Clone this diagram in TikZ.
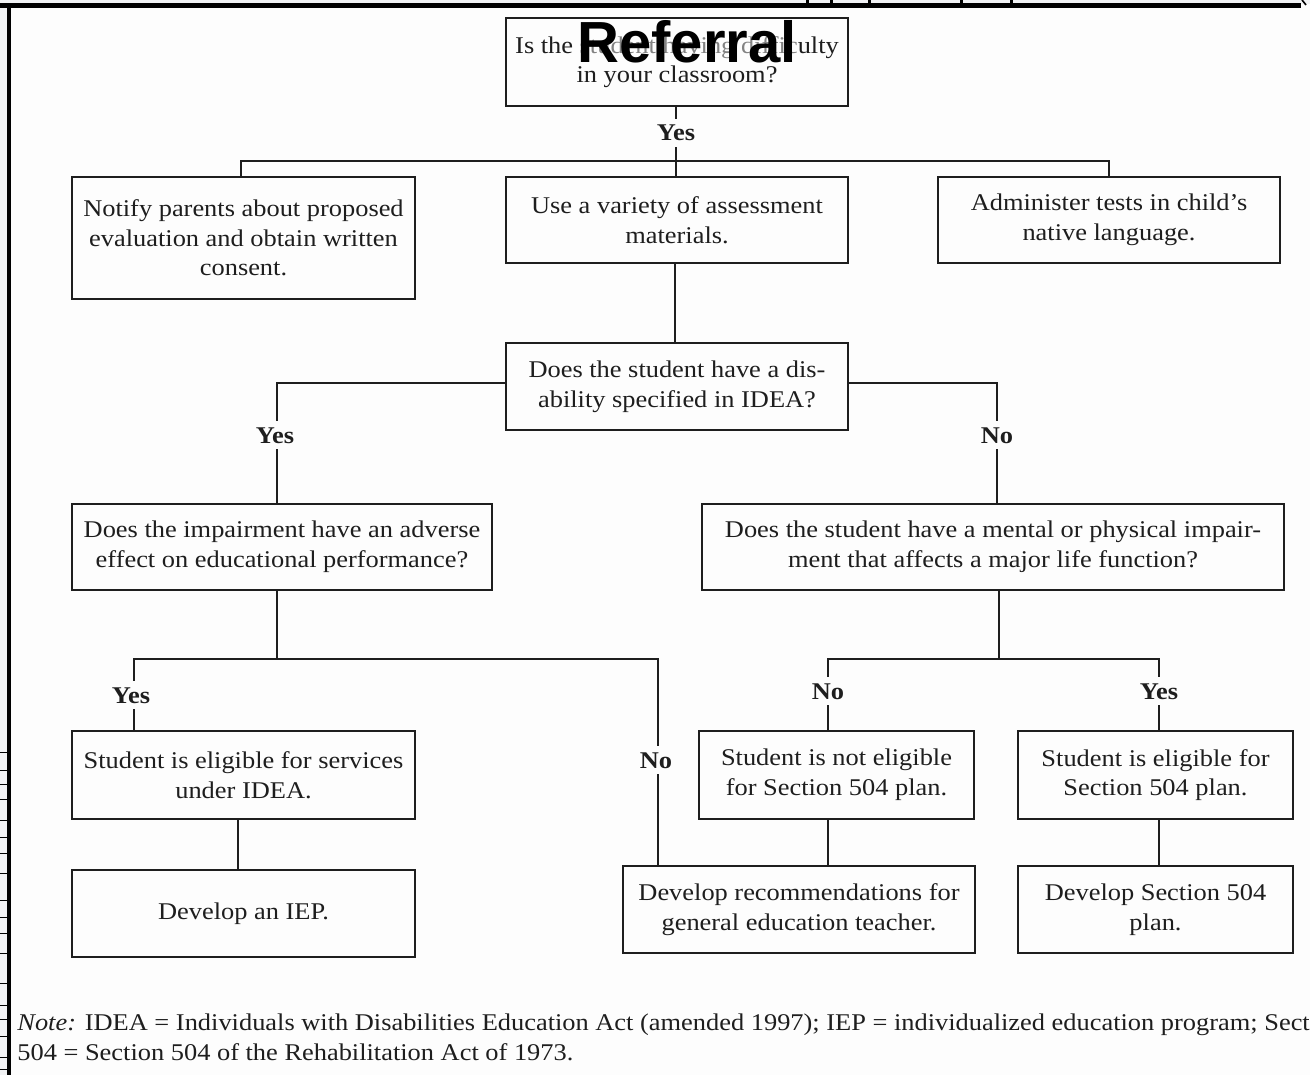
\documentclass[tikz,border=0pt]{standalone}
\usepackage{fontspec}
\setmainfont{Liberation Serif}[FakeStretch=1.1]
\newfontfamily\reffont{Liberation Sans}
\definecolor{ink}{HTML}{1E1E1E}
\definecolor{paper}{HTML}{FDFDFD}
\definecolor{strip}{HTML}{F1F2F4}
\tikzset{
  box/.style={draw=ink, line width=1.15pt, inner sep=0pt, align=center, text=ink,
    font=\fontsize{12}{14.8}\selectfont},
  conn/.style={draw=ink, line width=0.95pt},
  lab/.style={inner sep=0pt, text height=8pt, text depth=0pt, minimum height=14pt,
    text=ink, font=\fontsize{12}{14.8}\selectfont\bfseries},
  notetext/.style={inner sep=0pt, anchor=base west, text=ink, font=\fontsize{12}{14.8}\selectfont}
}
\begin{document}
\begin{tikzpicture}[x=0.5pt,y=-0.5pt]
\useasboundingbox (0,0) rectangle (1310,1075);
\clip (0,0) rectangle (1310,1075);
\fill[paper] (0,0) rectangle (1310,1075);
\fill[strip] (0,0) rectangle (1310,4);
\fill[strip] (0,0) rectangle (8,1075);
% frame remnants
\draw[line width=2.5pt] (0,5.5) -- (1301,5.5);
\draw[line width=2pt] (9,4) -- (9,1075);
\draw[line width=0.8pt] (1302,0) -- (1306,5);
\foreach \mx in {806,830,868,960,1010}{\fill (\mx,0) rectangle ++(3,3);}
\foreach \ty in {752,770,784,799,820,837,853,873,900,917,933,953,983,1005,1019,1036,1057,1069}{
  \draw[line width=0.5pt] (0,\ty) -- (8,\ty);}

% boxes
\node[box, minimum width=171pt, minimum height=44pt] (top) at (677,62) {Is the student having difficulty\\in your classroom?};
\node[box, minimum width=171.5pt, minimum height=61pt] (notify) at (243.5,238) {Notify parents about proposed\\evaluation and obtain written\\consent.};
\node[box, minimum width=171pt, minimum height=43pt] (use) at (677,220) {Use a variety of assessment\\materials.};
\node[box, minimum width=171pt, minimum height=43pt] (admin) at (1109,220) {Administer tests in child’s\\native language.};
\node[box, minimum width=171pt, minimum height=43.5pt] (disab) at (677,386.5) {Does the student have a dis-\\ability specified in IDEA?};
\node[box, minimum width=210pt, minimum height=43pt] (impair) at (282,547) {Does the impairment have an adverse\\effect on educational performance?};
\node[box, minimum width=291pt, minimum height=43pt] (mental) at (993,547) {Does the student have a mental or physical impair-\\ment that affects a major life function?};
\node[box, minimum width=171.5pt, minimum height=44pt] (eligidea) at (243.5,775) {Student is eligible for services\\under IDEA.};
\node[box, minimum width=171.5pt, minimum height=43.5pt] (iep) at (243.5,913.5) {Develop an IEP.};
\node[box, minimum width=137.5pt, minimum height=44pt] (notelig) at (836.5,775) {Student is not eligible\\for Section 504 plan.};
\node[box, minimum width=137.5pt, minimum height=44pt] (elig504) at (1155.5,775) {Student is eligible for\\Section 504 plan.};
\node[box, minimum width=176pt, minimum height=43.5pt] (devrec) at (799,909.5) {Develop recommendations for\\general education teacher.};
\node[box, minimum width=137.5pt, minimum height=43.5pt] (dev504) at (1155.5,909.5) {Develop Section 504\\plan.};

% labels
\node[lab] (y1) at (676,133) {Yes};
\node[lab] (yL) at (275,435) {Yes};
\node[lab] (nR) at (997,435) {No};
\node[lab] (y2) at (131,695) {Yes};
\node[lab] (n2) at (656,760) {No};
\node[lab] (n3) at (828,691) {No};
\node[lab] (y3) at (1159,691) {Yes};

% branch points
\coordinate (b1) at (676,161);
\coordinate (b1L) at (241,161);
\coordinate (b1R) at (1109,161);
\coordinate (dL) at (277,383);
\coordinate (dR) at (997,383);
\coordinate (i1) at (277,659);
\coordinate (i1L) at (134,659);
\coordinate (i1R) at (658,659);
\coordinate (m1) at (999,659);
\coordinate (m1L) at (828,659);
\coordinate (m1R) at (1159,659);
\coordinate (e1) at (238,0);
\coordinate (u1) at (675,0);

% connectors
\draw[conn] (top.south -| y1) -- (y1.north);
\draw[conn] (y1.south) -- (b1);
\draw[conn] (notify.north -| b1L) -- (b1L) -- (b1R) -- (admin.north -| b1R);
\draw[conn] (b1) -- (use.north -| b1);
\draw[conn] (use.south -| u1) -- (disab.north -| u1);
\draw[conn] (disab.west |- dL) -- (dL) -- (yL.north -| dL);
\draw[conn] (yL.south -| dL) -- (impair.north -| dL);
\draw[conn] (disab.east |- dR) -- (dR) -- (nR.north -| dR);
\draw[conn] (nR.south -| dR) -- (mental.north -| dR);
\draw[conn] (impair.south -| i1) -- (i1);
\draw[conn] (y2.north -| i1L) -- (i1L) -- (i1R) -- (n2.north -| i1R);
\draw[conn] (y2.south -| i1L) -- (eligidea.north -| i1L);
\draw[conn] (n2.south -| i1R) -- (devrec.north -| i1R);
\draw[conn] (mental.south -| m1) -- (m1);
\draw[conn] (n3.north -| m1L) -- (m1L) -- (m1R) -- (y3.north -| m1R);
\draw[conn] (n3.south -| m1L) -- (notelig.north -| m1L);
\draw[conn] (y3.south -| m1R) -- (elig504.north -| m1R);
\draw[conn] (eligidea.south -| e1) -- (iep.north -| e1);
\draw[conn] (notelig.south -| m1L) -- (devrec.north -| m1L);
\draw[conn] (elig504.south -| m1R) -- (dev504.north -| m1R);

% overlay title
\node[anchor=base, inner sep=0pt, fill=white, fill opacity=0.45, text opacity=1,
  font=\reffont\fontsize{29}{30}\selectfont\bfseries] (ref) at (687,63) {Referral};

% note
\node[notetext] (note1) at (17,1030) {\textit{Note:} IDEA = Individuals with Disabilities Education Act (amended 1997); IEP = individualized education program; Section};
\node[notetext] (note2) at (17,1060) {504 = Section 504 of the Rehabilitation Act of 1973.};
\end{tikzpicture}
\end{document}
